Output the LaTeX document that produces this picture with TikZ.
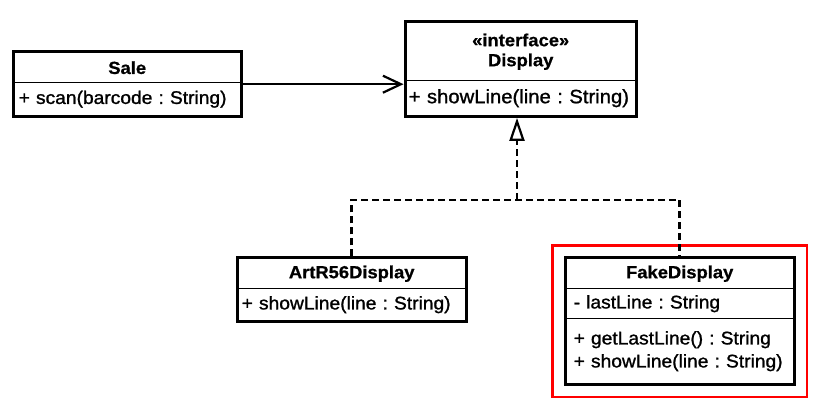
\documentclass[tikz,border=0pt]{standalone}
\usepackage{fontspec}
\setmainfont[FakeStretch=1.05, UprightFeatures={FakeBold=1.2}, BoldFeatures={FakeBold=0.8}]{Liberation Sans}
\usetikzlibrary{arrows.meta,fit}
\frenchspacing
\begin{document}
\begin{tikzpicture}[x=1pt,y=-1pt,
  namec/.style={draw, line width=1.4pt, inner xsep=5pt, inner ysep=0pt, align=center,
    anchor=north west, font=\fontsize{17.5}{20}\selectfont\bfseries},
  opc/.style={draw, line width=1.4pt, inner xsep=5pt, inner ysep=0pt, align=left,
    anchor=north west, font=\fontsize{18.3}{23}\selectfont},
  outer/.style={draw, line width=3pt, inner sep=0pt},
  dashline/.style={line width=2.5pt, dash pattern=on 7pt off 4pt},
  assoc/.style={line width=2.2pt, -{Straight Barb[length=18pt,width=17pt,line width=2.2pt]}},
  realize/.style={dashline, -{Triangle[open,length=23pt,width=15pt,line width=2.2pt]}}]
\useasboundingbox (0,0) rectangle (822,403);
% Sale
\node[namec, text width=217pt, minimum height=30pt] (salen) at (13,52) {Sale};
\node[opc, text width=217pt, minimum height=33pt] (saleo) at (13,82) {+ scan(barcode : String)};
\node[outer, fit=(salen)(saleo)] (sale) {};
% Display
\node[namec, text width=220pt, minimum height=58pt] (dispn) at (405,22) {«interface»\\Display};
\node[opc, text width=224pt, inner xsep=3pt, minimum height=35pt, font=\fontsize{19.3}{23}\selectfont] (dispo) at (405,80) {+ showLine(line : String)};
\node[outer, fit=(dispn)(dispo)] (display) {};
% ArtR56Display
\node[namec, text width=218pt, minimum height=30pt] (artn) at (237,258) {ArtR56Display};
\node[opc, text width=220pt, inner xsep=4pt, minimum height=32pt] (arto) at (237,288) {+ showLine(line : String)};
\node[outer, fit=(artn)(arto)] (art) {};
% FakeDisplay
\node[namec, text width=218pt, minimum height=30pt] (faken) at (565,258) {FakeDisplay};
\node[opc, text width=212pt, inner xsep=8pt, minimum height=30pt] (fakea) at (565,288) {- lastLine : String};
\node[opc, text width=212pt, inner xsep=8pt, minimum height=65pt] (fakeo) at (565,318) {+ getLastLine() : String\\+ showLine(line : String)};
\node[outer, fit=(faken)(fakea)(fakeo)] (fake) {};
% highlight
\node[draw=red, line width=2.5pt, inner sep=11pt, fit=(fake)] (hl) {};
% connectors
\coordinate (jn) at (517,200);
\draw[assoc] (sale.east) -- (display.west |- sale.east);
\draw[realize] (jn) -- (display.south -| jn);
\draw[dashline] (art.north) -- (art.north |- jn) -- (fake.north |- jn) -- (fake.north);
\end{tikzpicture}
\end{document}
